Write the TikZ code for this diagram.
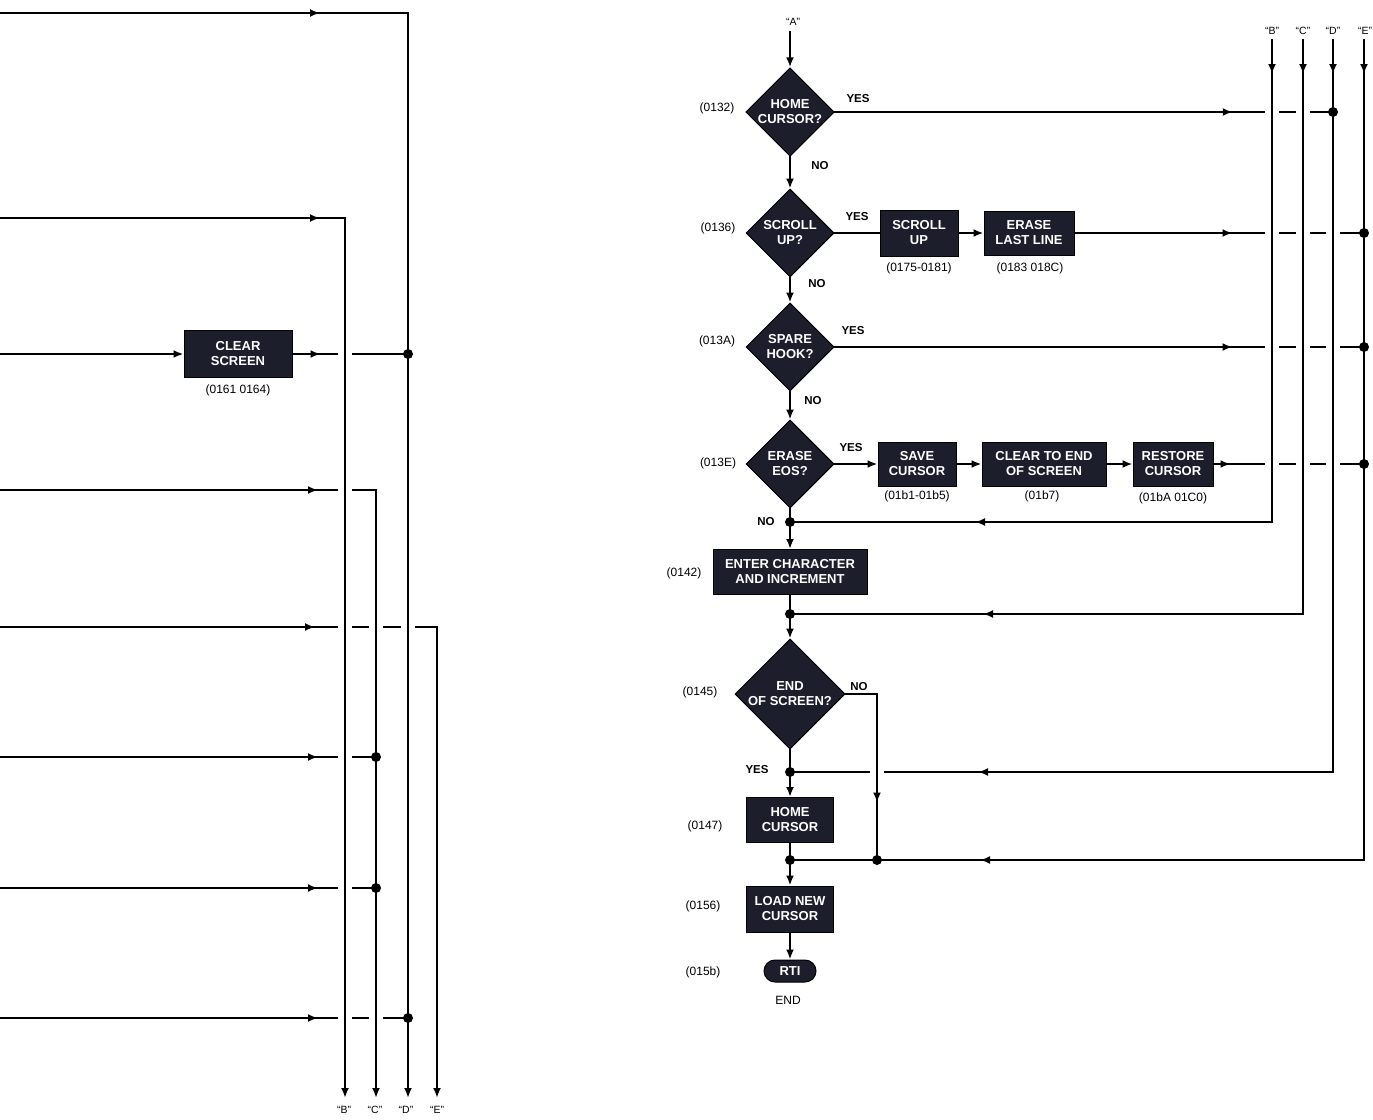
\documentclass[tikz,border=0pt]{standalone}
\usepackage{fontspec}
\setmainfont{Liberation Sans}
\usetikzlibrary{arrows.meta,shapes.geometric,decorations.markings,calc}
\definecolor{boxfill}{HTML}{1C1E2C}
\newcommand{\myBoxFont}{\fontsize{13}{15}\selectfont\bfseries}
\newcommand{\myLabFont}{\fontsize{12}{14}\selectfont}
\newcommand{\myYnFont}{\fontsize{11.5}{13}\selectfont\bfseries}
\newcommand{\myQFont}{\fontsize{10.5}{12}\selectfont}
\begin{document}
\begin{tikzpicture}[x=1pt,y=-1pt,
  wire/.style={draw=black,line width=2pt,line cap=rect},
  arr/.style={wire,-{Latex[length=10pt,width=8pt]}},
  marr/.style={wire,postaction={decorate},decoration={markings,mark=at position #1 with {\arrow{Latex[length=10pt,width=8pt]}}}},
  proc/.style={rectangle,fill=boxfill,draw=black,line width=1pt,text=white,font=\myBoxFont,align=center,inner sep=0pt},
  dec/.style={diamond,aspect=1,fill=boxfill,draw=black,line width=1pt,text=white,font=\myBoxFont,align=center,inner sep=0pt,minimum width=88pt,minimum height=88pt},
  term/.style={rectangle,rounded corners=11pt,fill=boxfill,draw=black,line width=1pt,text=white,font=\myBoxFont,minimum width=52pt,minimum height=22pt,inner sep=0pt},
  lab/.style={font=\myLabFont,inner sep=0pt},
  yn/.style={font=\myYnFont,inner sep=0pt},
  qlab/.style={font=\myQFont,inner sep=0pt},
  dot/.style={circle,fill=black,minimum size=10pt,inner sep=0pt},
  gapbox/.style={rectangle,fill=white,minimum width=14pt,minimum height=7pt,inner sep=0pt}
]
\useasboundingbox[fill=white] (0,0) rectangle (1373,1119);

% ---------- right flow ----------
\node[qlab] (qA) at (793,22) {“A”};
\coordinate (tA) at (790,32);
\node[dec] (D1) at (790,112) {HOME\\CURSOR?};
\node[dec] (D2) at (790,233) {SCROLL\\UP?};
\node[dec] (D3) at (790,347) {SPARE\\HOOK?};
\node[dec] (D4) at (790,464) {ERASE\\EOS?};
\node[dot] (J1) at (790,522) {};
\node[proc,minimum width=154pt,minimum height=45pt] (ENT) at (790,572) {ENTER CHARACTER\\AND INCREMENT};
\node[dot] (J2) at (790,614) {};
\node[dec,minimum width=110pt,minimum height=110pt] (D5) at (790,694) {END\\OF SCREEN?};
\node[dot] (J3) at (790,772) {};
\node[proc,minimum width=87pt,minimum height=45pt] (HC) at (790,820) {HOME\\CURSOR};
\node[dot] (J4) at (790,860) {};
\node[proc,minimum width=87pt,minimum height=46pt] (LNC) at (790,909) {LOAD NEW\\CURSOR};
\node[term] (RTI) at (790,971) {RTI};
\node[lab] (endl) at (788,1000) {END};

\node[proc,minimum width=78pt,minimum height=46pt] (SU) at (919,233) {SCROLL\\UP};
\node[proc,minimum width=90pt,minimum height=44pt] (ELL) at (1029,233) {ERASE\\LAST LINE};
\node[proc,minimum width=78pt,minimum height=44pt] (SC) at (917,464) {SAVE\\CURSOR};
\node[proc,minimum width=124pt,minimum height=44pt] (CTE) at (1044,464) {CLEAR TO END\\OF SCREEN};
\node[proc,minimum width=80pt,minimum height=44pt] (RC) at (1173,464) {RESTORE\\CURSOR};

\node[lab] (l1) at (919,268) {(0175-0181)};
\node[lab] (l2) at (1030,268) {(0183 018C)};
\node[lab] (l3) at (917,496) {(01b1-01b5)};
\node[lab] (l4) at (1042,496) {(01b7)};
\node[lab] (l5) at (1173,498) {(01bA 01C0)};

\node[lab] (a1) at (717,108) {(0132)};
\node[lab] (a2) at (718,228) {(0136)};
\node[lab] (a3) at (717,341) {(013A)};
\node[lab] (a4) at (718,463) {(013E)};
\node[lab] (a5) at (684,573) {(0142)};
\node[lab] (a6) at (700,692) {(0145)};
\node[lab] (a7) at (705,826) {(0147)};
\node[lab] (a8) at (703,906) {(0156)};
\node[lab] (a9) at (703,972) {(015b)};

\node[yn] (y1) at (858,99) {YES};
\node[yn] (n1) at (820,166) {NO};
\node[yn] (y2) at (857,217) {YES};
\node[yn] (n2) at (817,284) {NO};
\node[yn] (y3) at (853,331) {YES};
\node[yn] (n3) at (813,401) {NO};
\node[yn] (y4) at (851,448) {YES};
\node[yn] (n4) at (766,522) {NO};
\node[yn] (n5) at (859,687) {NO};
\node[yn] (y5) at (757,770) {YES};

\node[qlab] (qB) at (1272,31) {“B”};
\node[qlab] (qC) at (1303,31) {“C”};
\node[qlab] (qD) at (1333,31) {“D”};
\node[qlab] (qE) at (1365,31) {“E”};
\coordinate (tB) at (1272,40);
\coordinate (tC) at (1303,40);
\coordinate (tD) at (1333,40);
\coordinate (tE) at (1364,40);
\coordinate (cB) at (1272,522);
\coordinate (cC) at (1303,614);
\coordinate (cD) at (1333,772);
\coordinate (cE) at (1364,860);
\node[dot] (jR1) at (1333,112) {};
\node[dot] (jR2) at (1364,233) {};
\node[dot] (jR3) at (1364,347) {};
\node[dot] (jR4) at (1364,464) {};
\node[dot] (jNO) at (877,860) {};
\coordinate (nA) at (877,694);

% ---------- left side ----------
\coordinate (r1) at (0,13);
\coordinate (r2) at (0,218);
\coordinate (r3) at (0,354);
\coordinate (r4) at (0,490);
\coordinate (r5) at (0,627);
\coordinate (r6) at (0,757);
\coordinate (r7) at (0,888);
\coordinate (r8) at (0,1018);
\coordinate (cLB) at (345,218);
\coordinate (cLC) at (376,490);
\coordinate (cLD) at (408,13);
\coordinate (cLE) at (437,627);
\coordinate (bLB) at (345,1098);
\coordinate (bLC) at (376,1098);
\coordinate (bLD) at (408,1098);
\coordinate (bLE) at (437,1098);
\node[qlab] (qlB) at (344,1110) {“B”};
\node[qlab] (qlC) at (375,1110) {“C”};
\node[qlab] (qlD) at (406,1110) {“D”};
\node[qlab] (qlE) at (437,1110) {“E”};
\node[proc,minimum width=108pt,minimum height=47pt] (CS) at (238,354) {CLEAR\\SCREEN};
\node[lab] (l6) at (238,390) {(0161 0164)};
\node[dot] (jL3) at (408,354) {};
\node[dot] (jL6) at (376,757) {};
\node[dot] (jL7) at (376,888) {};
\node[dot] (jL8) at (408,1018) {};

% ---------- horizontal connectors ----------
\draw[marr=320pt] (r1) -- (cLD);
\draw[marr=320pt] (r2) -- (cLB);
\draw[arr] (r3) -- (CS.west);
\draw[marr=28pt] (CS.east) -- (jL3);
\draw[marr=318pt] (r4) -- (cLC);
\draw[marr=315pt] (r5) -- (cLE);
\draw[marr=318pt] (r6) -- (jL6);
\draw[marr=318pt] (r7) -- (jL7);
\draw[marr=318pt] (r8) -- (jL8);

\draw[marr=398pt] (D1.east) -- (jR1);
\draw[wire] (D2.east) -- (SU.west);
\draw[arr] (SU.east) -- (ELL.west);
\draw[marr=158pt] (ELL.east) -- (jR2);
\draw[marr=398pt] (D3.east) -- (jR3);
\draw[arr] (D4.east) -- (SC.west);
\draw[arr] (SC.east) -- (CTE.west);
\draw[arr] (CTE.east) -- (RC.west);
\draw[marr=17pt] (RC.east) -- (jR4);

\draw[marr=297pt] (cB) -- (J1);
\draw[marr=320pt] (cC) -- (J2);
\draw[marr=355pt] (cD) -- (J3);
\draw[marr=384pt] (cE) -- (J4);

% main flow
\draw[arr] (tA) -- (D1.north);
\draw[arr] (D1.south) -- (D2.north);
\draw[arr] (D2.south) -- (D3.north);
\draw[arr] (D3.south) -- (D4.north);
\draw[wire] (D4.south) -- (J1);
\draw[arr] (J1) -- (ENT.north);
\draw[wire] (ENT.south) -- (J2);
\draw[arr] (J2) -- (D5.north);
\draw[wire] (D5.south) -- (J3);
\draw[arr] (J3) -- (HC.north);
\draw[wire] (HC.south) -- (J4);
\draw[arr] (J4) -- (LNC.north);
\draw[arr] (LNC.south) -- (RTI.north);

% ---------- crossing gaps ----------
\node[gapbox] (g1) at (cLB |- r3) {};
\node[gapbox] (g2) at (cLB |- r4) {};
\node[gapbox] (g3) at (cLB |- r5) {};
\node[gapbox] (g4) at (cLC |- r5) {};
\node[gapbox] (g5) at (cLD |- r5) {};
\node[gapbox] (g6) at (cLB |- r6) {};
\node[gapbox] (g7) at (cLB |- r7) {};
\node[gapbox] (g8) at (cLB |- r8) {};
\node[gapbox] (g9) at (cLC |- r8) {};
\node[gapbox] (g10) at (tB |- jR1) {};
\node[gapbox] (g11) at (tC |- jR1) {};
\node[gapbox] (g12) at (tB |- jR2) {};
\node[gapbox] (g13) at (tC |- jR2) {};
\node[gapbox] (g14) at (tD |- jR2) {};
\node[gapbox] (g15) at (tB |- jR3) {};
\node[gapbox] (g16) at (tC |- jR3) {};
\node[gapbox] (g17) at (tD |- jR3) {};
\node[gapbox] (g18) at (tB |- jR4) {};
\node[gapbox] (g19) at (tC |- jR4) {};
\node[gapbox] (g20) at (tD |- jR4) {};
\node[gapbox] (g21) at (nA |- J3) {};

% ---------- vertical buses ----------
\draw[arr] (cLB) -- (bLB);
\draw[arr] (cLC) -- (bLC);
\draw[arr] (cLD) -- (bLD);
\draw[arr] (cLE) -- (bLE);
\draw[marr=34pt] (tB) -- (cB);
\draw[marr=34pt] (tC) -- (cC);
\draw[marr=34pt] (tD) -- (cD);
\draw[marr=34pt] (tE) -- (cE);
\draw[marr=140pt] (D5.east) -- (nA) -- (jNO);
\end{tikzpicture}
\end{document}
